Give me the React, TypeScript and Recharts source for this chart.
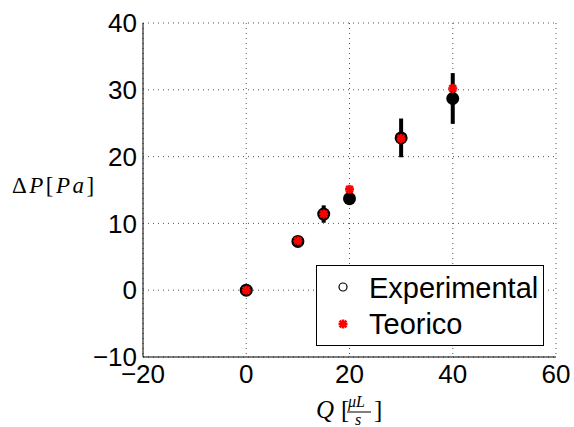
import { ScatterChart, Scatter, XAxis, YAxis, CartesianGrid, ErrorBar } from 'recharts'

// caudal Q [uL/s]
const caudales = [0, 10, 15, 20, 30, 40]
// presion medida y su error
const expValores = [0, 7.3, 11.4, 13.7, 22.8, 28.7]
const expErrores = [0, 0.4, 1.3, 0.3, 2.9, 3.8]
// presion teorica
const teoValores = [0, 7.4, 11.4, 15.1, 22.7, 30.2]

const X_TICKS = [-20, 0, 20, 40, 60]
const Y_TICKS = [-10, 0, 10, 20, 30, 40]

const expData = caudales.map((q, i) => ({ q, dp: expValores[i], err: expErrores[i] }))
const teoData = caudales.map((q, i) => ({ q, dp: teoValores[i] }))

const FONT = '"Liberation Sans", Arial, Helvetica, sans-serif'
const SERIF = '"Liberation Serif", "DejaVu Serif", serif'

function Punto(props: any) {
  const { cx, cy } = props
  return <circle cx={cx} cy={cy} r={6.5} fill="#000" />
}

function Estrella(props: any) {
  const { cx, cy } = props
  const r = 4.5
  const d = r * 0.75
  return (
    <g stroke="#ff0000" strokeWidth={2.6}>
      <line x1={cx - r} y1={cy} x2={cx + r} y2={cy} />
      <line x1={cx} y1={cy - r} x2={cx} y2={cy + r} />
      <line x1={cx - d} y1={cy - d} x2={cx + d} y2={cy + d} />
      <line x1={cx - d} y1={cy + d} x2={cx + d} y2={cy - d} />
    </g>
  )
}

function Leyenda() {
  return (
    <div
      style={{
        position: 'absolute', left: 316, top: 265, width: 228, height: 81,
        boxSizing: 'border-box', border: '1.5px solid #000', background: '#fff',
      }}
    >
      <svg width={228} height={81} style={{ position: 'absolute', left: -1.5, top: -1.5 }}>
        <circle cx={27} cy={22} r={4} fill="none" stroke="#000" strokeWidth={1.2} />
        <Estrella cx={27} cy={59} />
        <text x={53} y={33} fontSize={29} fontFamily={FONT} fill="#000">Experimental</text>
        <text x={53} y={69} fontSize={29} fontFamily={FONT} fill="#000">Teorico</text>
      </svg>
    </div>
  )
}

function EtiquetaY() {
  return (
    <text x={12} y={193} fontFamily={SERIF} fontSize={23} fill="#000" letterSpacing={2.5}>
      <tspan>Δ</tspan>
      <tspan fontStyle="italic">P</tspan>
      <tspan>[</tspan>
      <tspan fontStyle="italic">Pa</tspan>
      <tspan>]</tspan>
    </text>
  )
}

function EtiquetaX() {
  return (
    <g fontFamily={SERIF} fill="#000">
      <text x={316} y={418} fontSize={25} fontStyle="italic">Q</text>
      <text x={341} y={418} fontSize={25}>[</text>
      <text x={348} y={407} fontSize={16} fontStyle="italic">μL</text>
      <line x1={347} y1={412} x2={371} y2={412} stroke="#000" strokeWidth={1} />
      <text x={355} y={425} fontSize={16} fontStyle="italic">s</text>
      <text x={374} y={418} fontSize={25}>]</text>
    </g>
  )
}

export default function App() {
  return (
    <div style={{ position: 'absolute', left: 0, top: 0, width: 574, height: 427, background: '#fff' }}>
      <ScatterChart width={574} height={427} margin={{ top: 23, right: 18, bottom: 0, left: 0 }}>
        <CartesianGrid stroke="#555" strokeDasharray="1 4" strokeWidth={1} />
        <XAxis
          type="number"
          dataKey="q"
          domain={[-20, 60]}
          ticks={X_TICKS}
          allowDataOverflow
          height={70}
          tickLine={false}
          tickSize={4}
          tickMargin={4}
          axisLine={{ stroke: '#000', strokeWidth: 1 }}
          tick={{ fill: '#000', fontSize: 26, fontFamily: FONT }}
          tickFormatter={(v: number) => (v < 0 ? `\u2212${-v}` : `${v}`)}
        />
        <YAxis
          type="number"
          dataKey="dp"
          domain={[-10, 40]}
          ticks={Y_TICKS}
          allowDataOverflow
          width={143}
          tickLine={false}
          tickSize={4}
          tickMargin={2}
          axisLine={{ stroke: '#000', strokeWidth: 1 }}
          tick={{ fill: '#000', fontSize: 26, fontFamily: FONT }}
          tickFormatter={(v: number) => (v < 0 ? `\u2212${-v}` : `${v}`)}
        />
        <Scatter name="Experimental" data={expData} shape={Punto} isAnimationActive={false}>
          <ErrorBar dataKey="err" direction="y" width={0} stroke="#000" strokeWidth={4} />
        </Scatter>
        <Scatter name="Teorico" data={teoData} shape={Estrella} isAnimationActive={false} />
        <EtiquetaY />
        <EtiquetaX />
      </ScatterChart>
      <Leyenda />
    </div>
  )
}
